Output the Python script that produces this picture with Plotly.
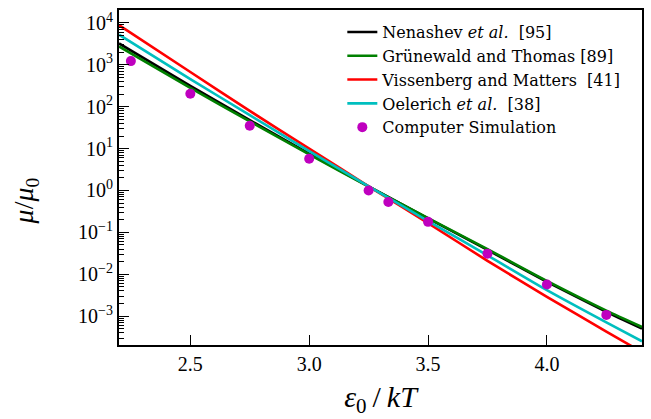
import plotly.graph_objects as go

# reduced trap energy eps0/kT and model mobilities mu/mu0
x_model = [2.2, 2.5, 2.75, 3.0, 3.25, 3.5, 3.75, 4.0, 4.25, 4.4]
mu_nenashev = [3240, 316, 47.9, 7.59, 1.26, 0.216, 0.0380, 0.00661, 1.26e-3, 5.01e-4]
mu_grunewald = [2750, 282, 44.7, 7.24, 1.23, 0.219, 0.0398, 0.00692, 1.35e-3, 5.50e-4]
mu_vissenberg = [8900, 676, 79.4, 10.0, 1.26, 0.166, 0.0209, 0.00288, 4.27e-4, 1.38e-4]
mu_oelerich = [5250, 457, 63.1, 8.71, 1.26, 0.186, 0.0282, 0.00417, 7.08e-4, 2.51e-4]

# Monte-Carlo simulation results
x_sim = [2.25, 2.5, 2.75, 3.0, 3.25, 3.333, 3.5, 3.75, 4.0, 4.25]
mu_sim = [1230, 204, 35, 5.7, 1.0, 0.53, 0.178, 0.031, 0.0057, 0.00107]

x_ticks = [2.5, 3.0, 3.5, 4.0]
y_exponents = [-3, -2, -1, 0, 1, 2, 3, 4]

SERIF = "Liberation Serif"
LEGEND_FONT = "DejaVu Serif"

fig = go.Figure()
lines = [
    ("Nenashev <i>et al.</i>  [95]", mu_nenashev, "#000000"),
    ("Grünewald and Thomas [89]", mu_grunewald, "#008000"),
    ("Vissenberg and Matters  [41]", mu_vissenberg, "#ff0000"),
    ("Oelerich <i>et al.</i>  [38]", mu_oelerich, "#00bfbf"),
]
for name, vals, col in lines:
    fig.add_trace(go.Scatter(x=x_model, y=vals, mode="lines", name=name,
                             line=dict(color=col, width=2.6, shape="spline", smoothing=0.6)))
fig.add_trace(go.Scatter(x=x_sim, y=mu_sim, mode="markers", name="Computer Simulation",
                         marker=dict(color="#bf00bf", size=10)))

minor_vals = [m * 10.0 ** e for e in range(-4, 5) for m in range(2, 10)]

fig.update_layout(
    width=651, height=419,
    margin=dict(l=119, r=7, t=10, b=74),
    paper_bgcolor="white", plot_bgcolor="white",
    font=dict(family=SERIF, color="black"),
    showlegend=True,
    legend=dict(x=0.427, y=0.985, xanchor="left", yanchor="top",
                bgcolor="rgba(255,255,255,0)", borderwidth=0,
                font=dict(family=LEGEND_FONT, size=16), tracegroupgap=0,
                itemwidth=30),
    annotations=[dict(
        text="<i>μ</i>/<i>μ</i><sub>0</sub>", textangle=-90,
        xref="paper", yref="paper", x=-0.177, y=0.43,
        xanchor="center", yanchor="middle", showarrow=False,
        font=dict(family=SERIF, size=28),
    )],
)
fig.update_xaxes(
    range=[2.2, 4.4], tickvals=x_ticks, ticktext=[f"{v:.1f}" for v in x_ticks],
    ticks="inside", ticklen=10, tickwidth=1.3, tickcolor="black",
    showline=True, linewidth=2, linecolor="black", mirror=True,
    showgrid=False, zeroline=False,
    tickfont=dict(family=SERIF, size=20),
    title=dict(text="<i>ε</i><sub>0</sub>\u2009/\u2009<i>kT</i>", font=dict(family=SERIF, size=30), standoff=12),
)
fig.update_yaxes(
    type="log", range=[-3.69, 4.31],
    tickvals=[10.0 ** e for e in y_exponents],
    ticktext=[f"10<sup>{str(e).replace('-', '−')}</sup>" for e in y_exponents],
    ticks="inside", ticklen=10, tickwidth=1.3, tickcolor="black",
    minor=dict(tickvals=minor_vals, ticks="inside", ticklen=5, tickwidth=1, tickcolor="black", showgrid=False),
    showline=True, linewidth=2, linecolor="black", mirror=True,
    showgrid=False, zeroline=False,
    tickfont=dict(family=SERIF, size=20),
)

fig.write_html("out.html")
